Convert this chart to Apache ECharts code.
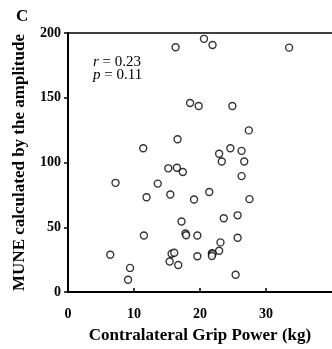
<!DOCTYPE html>
<html>
<head>
<meta charset="utf-8">
<script src="https://cdn.jsdelivr.net/npm/echarts@6/dist/echarts.min.js"></script>
<style>
html, body { margin: 0; padding: 0; background: #fff; }
#scatter { width: 332px; height: 349px; }
</style>
</head>
<body>
<div id="scatter"></div>
<script>
var myChart = echarts.init(document.getElementById('scatter'));

// 握力 (kg)
var gripPower = [16.3, 20.6, 21.9, 33.5, 18.5, 19.8, 24.9, 27.4, 16.6, 11.4,
    24.6, 22.9, 26.3, 23.3, 26.7, 15.2, 16.5, 17.4, 26.3, 7.2,
    13.6, 11.9, 15.5, 21.4, 19.1, 27.5, 25.7, 23.6, 17.2, 17.8,
    17.9, 19.6, 11.5, 25.7, 23.1, 6.4, 15.7, 16.1, 22.9, 21.8,
    21.9, 21.8, 19.6, 15.4, 16.7, 25.4, 9.4, 9.1];
// MUNE
var mune = [189, 195.5, 190.7, 188.7, 146, 143.6, 143.6, 124.8, 118, 111,
    111, 106.8, 109, 100.8, 100.8, 95.5, 96, 92.7, 89.5, 84.3,
    83.7, 73.2, 75.3, 77.2, 71.4, 71.7, 59.2, 56.9, 54.4, 45.2,
    43.8, 43.6, 43.6, 41.9, 38.3, 28.8, 29.5, 30.3, 31.8, 30,
    29.3, 27.8, 27.6, 23.5, 20.8, 13.3, 18.6, 9.5];
var xTicks = [0, 10, 20, 30, 40];
var yTicks = [0, 50, 100, 150, 200];
var rValue = '0.23';
var pValue = '0.11';

var points = [];
for (var i = 0; i < gripPower.length; ++i) {
    points.push([gripPower[i], mune[i]]);
}

var serif = '"Liberation Serif", "DejaVu Serif", serif';

myChart.setOption({
    animation: false,
    grid: {
        left: 68,
        top: 33,
        width: 268,
        height: 266
    },
    xAxis: [
        {
            type: 'value',
            min: xTicks[0],
            max: xTicks[xTicks.length - 1],
            interval: 10,
            splitLine: { show: false },
            axisLine: { lineStyle: { color: '#000', width: 2 } },
            axisTick: { show: true, inside: true, length: 4, lineStyle: { color: '#000', width: 1.5 } },
            axisLabel: {
                showMaxLabel: false,
                margin: 15,
                color: '#000',
                fontFamily: serif,
                fontWeight: 'bold',
                fontSize: 14
            },
            name: 'Contralateral Grip Power (kg)',
            nameLocation: 'middle',
            nameGap: 35,
            nameTextStyle: {
                color: '#000',
                fontFamily: serif,
                fontWeight: 'bold',
                fontSize: 17
            }
        },
        {
            type: 'value',
            position: 'top',
            min: xTicks[0],
            max: xTicks[xTicks.length - 1],
            splitLine: { show: false },
            axisLine: { show: true, lineStyle: { color: '#000', width: 1.5 } },
            axisTick: { show: false },
            axisLabel: { show: false }
        }
    ],
    yAxis: {
        type: 'value',
        min: yTicks[0],
        max: yTicks[yTicks.length - 1],
        interval: 50,
        splitLine: { show: false },
        axisLine: { show: true, lineStyle: { color: '#000', width: 2 } },
        axisTick: { show: true, length: 4, lineStyle: { color: '#000', width: 1.5 } },
        axisLabel: {
            margin: 7,
            color: '#000',
            fontFamily: serif,
            fontWeight: 'bold',
            fontSize: 14
        },
        name: 'MUNE calculated by the amplitude',
        nameLocation: 'middle',
        nameGap: 40,
        nameTextStyle: {
            color: '#000',
            fontFamily: serif,
            fontWeight: 'bold',
            fontSize: 17
        }
    },
    graphic: [
        {
            type: 'text',
            left: 16,
            top: 8,
            style: {
                text: 'C',
                fill: '#000',
                font: 'bold 17px "Liberation Serif", serif'
            }
        },
        {
            type: 'text',
            left: 93,
            top: 55,
            style: {
                text: '{i|r} = ' + rValue + '\n{i|p} = ' + pValue,
                fill: '#000',
                font: '15px "Liberation Serif", serif',
                lineHeight: 13,
                rich: {
                    i: { fontStyle: 'italic', fontFamily: serif, fontSize: 15, lineHeight: 13 }
                }
            }
        }
    ],
    series: [{
        type: 'scatter',
        data: points,
        symbol: 'circle',
        symbolSize: 7,
        itemStyle: {
            color: '#fff',
            borderColor: '#000',
            borderWidth: 1.4
        }
    }]
});
</script>
</body>
</html>
